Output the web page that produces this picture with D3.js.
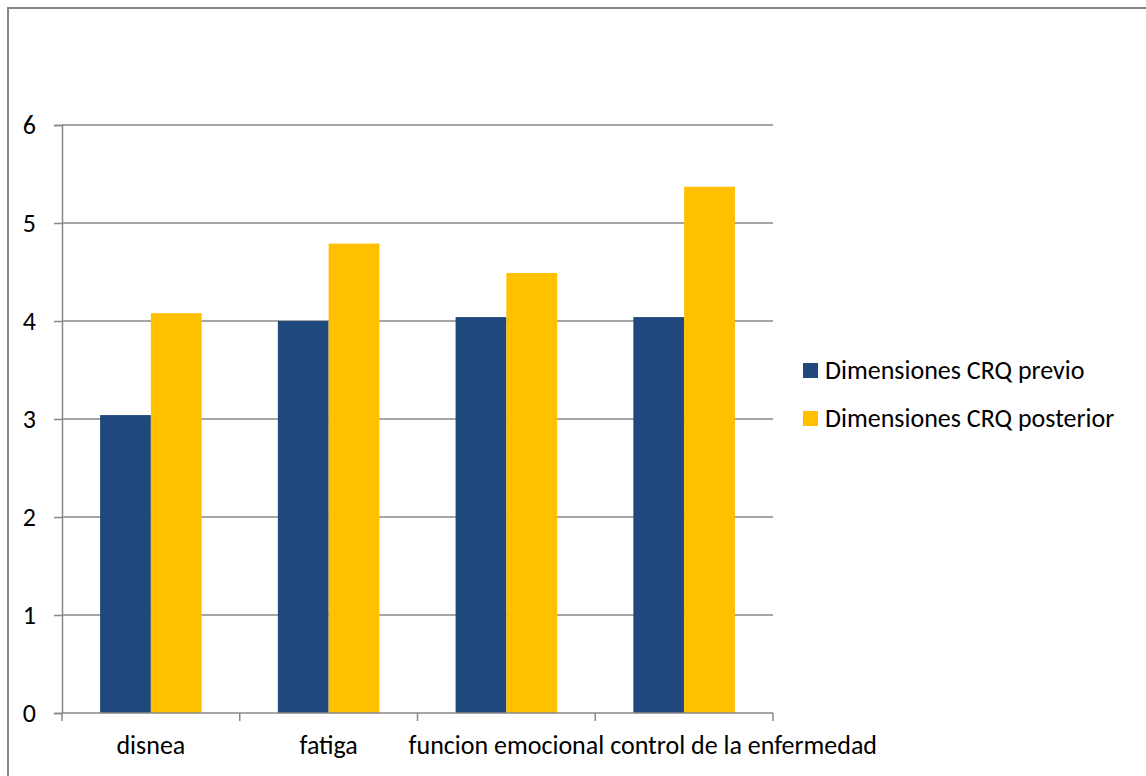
<!DOCTYPE html>
<html>
<head>
<meta charset="utf-8">
<script src="https://cdn.jsdelivr.net/npm/d3@7"></script>
<style>
  body { margin: 0; background: #fff; }
  text { font-family: Carlito, Lato, "Open Sans", sans-serif; fill: #000; }
</style>
</head>
<body>
<div id="chart"></div>
<script>
// data
var categories = ["disnea", "fatiga", "funcion emocional", "control de la enfermedad"];
var seriesNames = ["Dimensiones CRQ previo", "Dimensiones CRQ posterior"];
var previo = [3.04, 4.0, 4.04, 4.04];
var posterior = [4.08, 4.79, 4.49, 5.37];
var yTicks = [0, 1, 2, 3, 4, 5, 6];
var colors = ["#1f497d", "#ffc000"];

var svgWidth = 1146;
var svgHeight = 776;
var margin = { top: 125, left: 62, right: 373, bottom: 63 };
var width = svgWidth - margin.left - margin.right;
var height = svgHeight - margin.top - margin.bottom;
var fontSize = "26px";

var svg = d3.select("#chart").append("svg")
  .attr("width", svgWidth)
  .attr("height", svgHeight);

// outer frame (runs off the right and bottom edges)
svg.append("rect")
  .attr("x", 8).attr("y", 8)
  .attr("width", 1160).attr("height", 800)
  .attr("fill", "none")
  .attr("stroke", "#868686")
  .attr("stroke-width", 2);

var chartGroup = svg.append("g")
  .attr("transform", `translate(${margin.left}, ${margin.top})`);

var x0 = d3.scaleBand().domain(categories).range([0, width]).paddingInner(0).paddingOuter(0);
var bw = x0.bandwidth() / 3.5; // excel gap width 150%
var y = d3.scaleLinear().domain([0, 6]).range([height, 0]);

// gridlines
chartGroup.append("g")
  .selectAll("line")
  .data(yTicks.slice(1))
  .enter().append("line")
  .attr("x1", 0).attr("x2", width)
  .attr("y1", d => y(d)).attr("y2", d => y(d))
  .attr("stroke", "#888").attr("stroke-width", 1.5);

var rows = categories.map((c, i) => ({ cat: c, vals: [previo[i], posterior[i]] }));

var groups = chartGroup.selectAll(".cat")
  .data(rows)
  .enter().append("g")
  .attr("transform", d => `translate(${x0(d.cat) + 0.75 * bw}, 0)`);

groups.selectAll("rect")
  .data(d => d.vals)
  .enter().append("rect")
  .attr("x", (d, i) => i * bw)
  .attr("y", d => y(d))
  .attr("width", bw)
  .attr("height", d => height - y(d))
  .attr("fill", (d, i) => colors[i]);

// y axis
var leftAxis = d3.axisLeft(y).tickValues(yTicks).tickSize(8).tickPadding(18).tickFormat(d3.format("d"));
var yAxis = chartGroup.append("g").call(leftAxis);
yAxis.select(".domain").attr("stroke", "#888").attr("stroke-width", 1.5);
yAxis.selectAll(".tick line").attr("stroke", "#888").attr("stroke-width", 1.5);
yAxis.selectAll("text").style("font-size", fontSize).style("font-family", null);

// x axis
var xAxisG = chartGroup.append("g").attr("transform", `translate(0, ${height})`);
xAxisG.append("line").attr("x1", 0).attr("x2", width).attr("stroke", "#888").attr("stroke-width", 1.5);
xAxisG.selectAll(".xt")
  .data(d3.range(categories.length + 1))
  .enter().append("line")
  .attr("x1", d => d * x0.step()).attr("x2", d => d * x0.step())
  .attr("y1", 0).attr("y2", 8)
  .attr("stroke", "#888").attr("stroke-width", 1.5);
var xLabels = xAxisG.selectAll(".xl")
  .data(categories)
  .enter().append("text")
  .attr("y", 41)
  .style("font-size", fontSize)
  .text(d => d);

// centre each label, but push it right if it would run into the one before (like excel does)
var prevEnd = -Infinity;
xLabels.each(function(d) {
  var w = this.getComputedTextLength();
  var start = x0(d) + x0.bandwidth() / 2 - w / 2;
  if (start < prevEnd + 6) start = prevEnd + 6;
  d3.select(this).attr("x", start);
  prevEnd = start + w;
});

// legend
var legend = svg.append("g").attr("transform", "translate(803, 370)");
seriesNames.forEach((name, i) => {
  var row = legend.append("g").attr("transform", `translate(0, ${i * 48})`);
  row.append("rect").attr("x", 0).attr("y", -7).attr("width", 15).attr("height", 15).attr("fill", colors[i]);
  row.append("text").attr("x", 22).attr("y", 9).style("font-size", fontSize).text(name);
});
</script>
</body>
</html>
